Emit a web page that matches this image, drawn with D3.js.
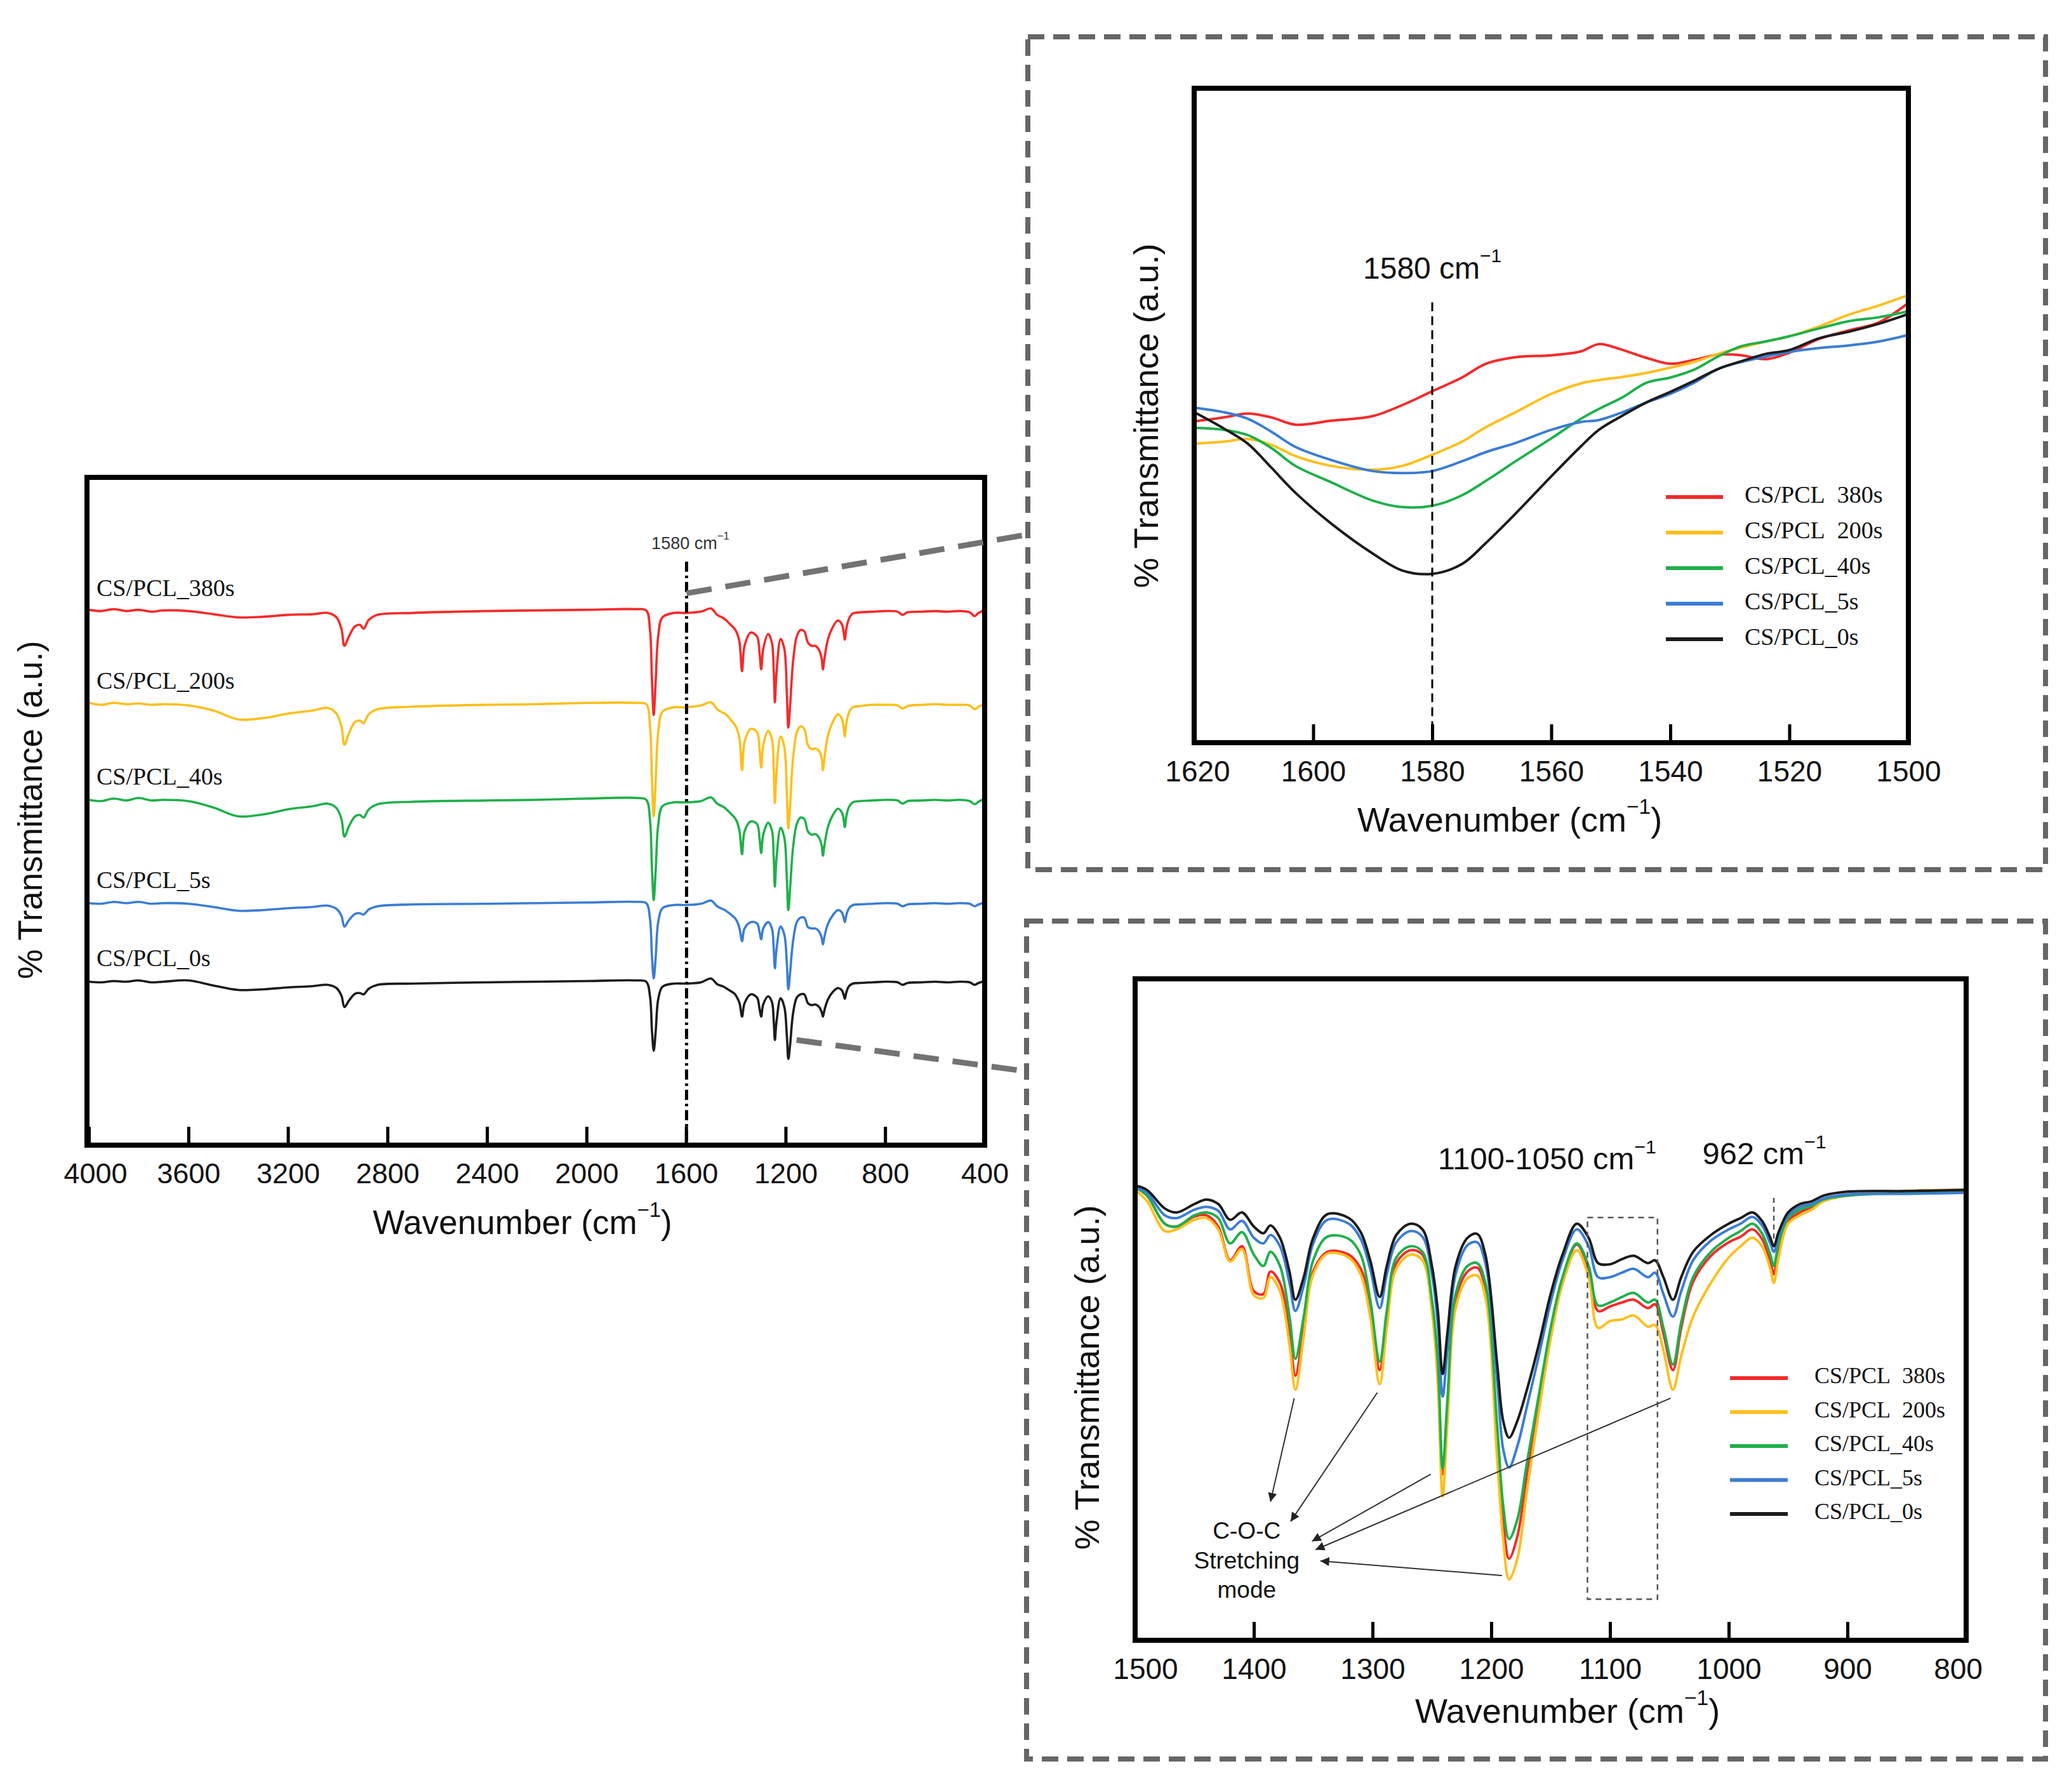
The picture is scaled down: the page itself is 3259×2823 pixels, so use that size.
<!DOCTYPE html>
<html>
<head>
<meta charset="utf-8">
<script src="https://cdn.jsdelivr.net/npm/d3@7"></script>
<style>
  body { margin: 0; background: #fff; }
</style>
</head>
<body>
<div id="fig"></div>
<script>
// ---- data ----------------------------------------------------------------
var seriesNames = ["CS/PCL_380s", "CS/PCL_200s", "CS/PCL_40s", "CS/PCL_5s", "CS/PCL_0s"];
var legendNames = ["CS/PCL\u2002380s", "CS/PCL\u2002200s", "CS/PCL_40s", "CS/PCL_5s", "CS/PCL_0s"];
var colors = ["#f42a2a", "#fdbf1c", "#1fb04b", "#3b7dd4", "#1c1c1c"];

// full spectrum, 4000-400 cm-1 (dip depth below each trace's own baseline, a.u.)
var mainWn = [4000, 3950, 3900, 3850, 3800, 3750, 3700, 3600, 3500, 3400, 3300, 3200, 3100, 3040, 3005, 2985, 2973, 2955, 2930, 2910, 2896, 2875, 2840, 2700, 2400, 2200, 2000, 1800, 1760, 1745, 1737, 1730, 1722, 1712, 1695, 1650, 1600, 1540, 1500, 1475, 1455, 1440, 1420, 1405, 1395, 1385, 1375, 1365, 1340, 1315, 1305, 1298, 1290, 1270, 1255, 1248, 1243, 1237, 1220, 1205, 1195, 1189, 1182, 1170, 1155, 1140, 1125, 1110, 1095, 1080, 1065, 1055, 1050, 1044, 1030, 1010, 990, 975, 968, 962, 956, 945, 930, 900, 850, 800, 750, 730, 710, 650, 600, 550, 500, 460, 440, 425, 410, 400];
var main380 = [-0.2, 0, -0.3, 0, -0.2, 0.1, -0.1, 0, 0.5, 1.0, 0.9, 0.6, 0.5, 0.3, 1.0, 2.8, 5.5, 4.0, 2.4, 2.2, 2.8, 1.4, 0.6, 0.3, 0, -0.1, -0.2, -0.3, -0.1, 3.0, 11.0, 16.4, 11.0, 4.0, 1.0, 0.3, 0.3, 0.1, -0.4, 0.6, 1.0, 1.4, 2.2, 2.8, 3.5, 5.0, 9.5, 5.5, 3.4, 4.0, 6.5, 9.2, 6.0, 3.6, 5.0, 9.0, 14.4, 10.0, 4.4, 6.0, 13.0, 18.4, 15.0, 8.0, 4.0, 3.0, 3.2, 5.0, 5.5, 5.5, 6.2, 7.5, 9.2, 7.5, 4.5, 2.5, 1.5, 2.0, 3.0, 4.5, 2.8, 1.2, 0.4, 0.2, 0.1, 0, 0.1, 0.6, 0.2, 0.1, 0, 0.1, 0, 0.2, 0.8, 0.3, 0, -0.5];
var main200 = [-0.2, 0.1, -0.2, 0, -0.1, 0.1, 0, 0.2, 1.0, 2.4, 2.2, 1.5, 1.0, 0.6, 1.5, 3.5, 6.4, 4.6, 2.8, 2.6, 3.0, 1.6, 0.8, 0.4, 0.1, 0, -0.2, -0.2, 0, 3.5, 12.0, 17.7, 12.0, 4.5, 1.2, 0.5, 0.5, 0.2, -0.3, 0.8, 1.3, 1.6, 2.5, 3.2, 4.0, 5.5, 10.4, 6.0, 3.9, 4.4, 7.0, 10.0, 6.5, 4.2, 5.5, 10.0, 15.6, 11.0, 5.1, 6.8, 14.0, 19.6, 16.0, 8.5, 4.5, 3.5, 3.9, 6.5, 7.1, 7.0, 7.4, 8.5, 10.4, 8.5, 5.0, 2.8, 1.6, 2.2, 3.3, 5.1, 3.0, 1.3, 0.5, 0.3, 0.1, 0.1, 0.2, 0.7, 0.3, 0.1, 0, 0.1, 0.1, 0.2, 0.8, 0.4, 0.1, -0.4];
var main40 = [0, 0.2, -0.2, 0.1, -0.3, 0.1, 0, 0.2, 1.2, 2.6, 2.3, 1.5, 1.0, 0.6, 1.3, 3.0, 5.8, 4.2, 2.6, 2.4, 2.8, 1.5, 0.7, 0.3, 0.1, 0, -0.2, -0.3, 0, 3.2, 11.0, 15.8, 11.0, 4.0, 1.0, 0.4, 0.4, 0.2, -0.4, 0.6, 1.0, 1.4, 2.2, 2.8, 3.5, 5.0, 8.6, 5.0, 3.4, 3.8, 6.0, 8.4, 5.5, 3.6, 4.8, 8.8, 13.7, 9.5, 4.4, 6.0, 12.5, 17.4, 14.0, 7.5, 3.8, 2.8, 3.0, 5.0, 5.5, 5.4, 6.0, 7.2, 8.8, 7.2, 4.3, 2.4, 1.4, 1.9, 2.8, 4.3, 2.6, 1.1, 0.4, 0.2, 0.1, 0, 0.1, 0.6, 0.2, 0.1, 0, 0.1, 0, 0.2, 0.7, 0.3, 0, -0.4];
var main5 = [0, 0.1, -0.2, 0, -0.2, 0.1, 0, 0.1, 0.6, 1.2, 1.1, 0.8, 0.6, 0.4, 0.9, 2.0, 3.7, 2.7, 1.7, 1.6, 1.8, 1.0, 0.5, 0.2, 0.1, 0, -0.1, -0.2, 0, 2.5, 8.5, 11.9, 8.5, 3.0, 0.8, 0.3, 0.3, 0.1, -0.4, 0.5, 0.9, 1.2, 1.8, 2.3, 2.9, 4.0, 6.0, 4.0, 3.0, 3.2, 4.5, 5.7, 4.0, 3.0, 4.0, 7.0, 10.3, 7.5, 3.7, 5.0, 9.5, 13.6, 11.0, 6.0, 3.0, 2.3, 2.3, 3.8, 4.0, 4.0, 4.5, 5.5, 6.5, 5.3, 3.3, 1.9, 1.1, 1.4, 2.1, 3.0, 1.9, 0.8, 0.3, 0.2, 0.1, 0, 0.1, 0.5, 0.2, 0.1, 0, 0.1, 0, 0.1, 0.5, 0.2, 0, -0.4];
var main0 = [0, 0.1, -0.1, 0, -0.2, 0.1, 0, -0.2, 0.6, 1.3, 1.2, 0.9, 0.7, 0.5, 1.0, 2.2, 4.0, 3.0, 1.9, 1.8, 2.0, 1.1, 0.5, 0.3, 0.1, 0, -0.1, -0.2, 0, 2.3, 7.8, 10.9, 7.8, 2.8, 0.8, 0.3, 0.3, 0.1, -0.5, 0.4, 0.7, 1.0, 1.5, 1.9, 2.5, 3.4, 5.5, 3.4, 2.0, 2.5, 4.2, 5.5, 3.6, 2.3, 3.2, 6.0, 9.2, 6.5, 2.6, 4.0, 8.5, 12.2, 10.0, 5.0, 2.5, 2.0, 2.0, 3.4, 3.7, 3.6, 4.0, 4.8, 5.5, 4.5, 2.8, 1.6, 1.0, 1.3, 1.9, 2.7, 1.7, 0.7, 0.3, 0.2, 0.1, 0, 0.1, 0.5, 0.2, 0.1, 0, 0.1, 0, 0.1, 0.5, 0.2, 0, -0.4];
var mainOffset = [84.3, 69.6, 54.5, 38.2, 25.8];
var mainTicks = [4000, 3600, 3200, 2800, 2400, 2000, 1600, 1200, 800, 400];
var mainMarkWn = 1598;   // where the "1580" guide line sits on the full-range axis

// zoom 1620-1500 cm-1
var zoomWn = [1620, 1615, 1611, 1607, 1603, 1597, 1590, 1585, 1580, 1575, 1571, 1566, 1560, 1555, 1552, 1548, 1544, 1540, 1536, 1532, 1528, 1524, 1520, 1515, 1510, 1505, 1500];
var zoom380 = [49.1, 49.7, 50.3, 49.7, 48.6, 49.2, 49.9, 51.6, 53.7, 55.8, 57.9, 58.9, 59.2, 59.8, 60.9, 60.0, 58.8, 57.9, 58.5, 59.3, 59.2, 58.6, 59.6, 61.7, 63.0, 64.2, 67.2];
var zoom200 = [45.7, 46.0, 46.4, 45.5, 43.8, 42.3, 41.7, 42.3, 44.0, 46.0, 48.2, 50.5, 53.3, 54.9, 55.4, 55.9, 56.5, 57.3, 58.2, 59.4, 60.4, 61.3, 62.1, 63.6, 65.4, 66.8, 68.4];
var zoom40 = [48.1, 47.8, 47.0, 45.0, 42.3, 39.8, 37.0, 36.0, 36.2, 37.8, 40.0, 43.0, 46.5, 49.5, 51.0, 52.8, 55.0, 55.8, 57.0, 59.0, 60.6, 61.3, 62.1, 63.3, 64.4, 65.0, 65.9];
var zoom5 = [51.2, 50.5, 49.5, 47.5, 45.2, 43.2, 41.5, 41.2, 41.5, 43.0, 44.4, 45.8, 47.8, 49.0, 49.3, 50.5, 52.0, 53.3, 55.0, 57.1, 58.2, 59.0, 59.7, 60.3, 60.7, 61.3, 62.3];
var zoom0 = [50.5, 48.0, 45.7, 42.0, 38.2, 33.5, 28.9, 26.3, 25.8, 27.3, 30.5, 35.0, 40.7, 45.3, 47.8, 50.0, 52.0, 53.6, 55.3, 57.1, 58.3, 59.4, 60.0, 61.8, 62.8, 64.0, 65.5];
var zoomTicks = [1620, 1600, 1580, 1560, 1540, 1520, 1500];

// zoom 1500-800 cm-1
var fingerWn = [1500, 1490, 1475, 1465, 1450, 1440, 1430, 1420, 1410, 1400, 1392, 1386, 1378, 1370, 1365, 1358, 1350, 1338, 1320, 1310, 1302, 1294, 1288, 1280, 1268, 1258, 1250, 1245, 1241, 1237, 1230, 1220, 1212, 1205, 1195, 1190, 1185, 1178, 1170, 1160, 1150, 1140, 1128, 1118, 1110, 1100, 1090, 1080, 1068, 1062, 1055, 1047, 1040, 1030, 1015, 1000, 990, 980, 972, 965, 962, 958, 950, 940, 930, 920, 900, 850, 800];
var finger380 = [80.5, 79.0, 74.0, 73.5, 75.3, 75.5, 73.5, 67.5, 70.0, 62.0, 61.5, 65.5, 63.5, 54.5, 47.0, 55.5, 65.5, 69.0, 68.5, 66.0, 59.5, 48.0, 57.0, 67.0, 69.3, 68.5, 60.0, 48.5, 29.5, 41.5, 60.5, 65.5, 66.2, 62.5, 35.0, 21.0, 14.5, 18.5, 29.5, 42.5, 55.0, 64.3, 70.3, 66.0, 58.5, 59.3, 60.0, 60.5, 59.0, 59.7, 54.5, 48.0, 55.5, 63.7, 68.3, 70.7, 71.7, 73.0, 71.3, 67.3, 65.0, 69.5, 74.5, 76.0, 77.0, 78.3, 79.0, 79.8, 80.0];
var finger200 = [80.0, 78.0, 72.7, 73.0, 74.7, 75.0, 73.0, 67.3, 69.5, 61.3, 60.8, 64.5, 62.0, 52.5, 44.5, 54.0, 65.0, 68.7, 68.0, 65.0, 57.5, 45.5, 55.5, 66.0, 68.5, 67.5, 58.5, 45.5, 25.5, 38.5, 59.0, 64.3, 64.8, 61.0, 32.0, 18.0, 10.8, 14.5, 26.5, 40.5, 53.5, 63.3, 69.3, 64.5, 55.5, 56.7, 57.0, 57.7, 55.7, 56.0, 51.5, 44.5, 50.5, 57.5, 63.5, 68.0, 70.0, 71.5, 70.0, 66.0, 63.5, 68.0, 74.0, 75.5, 76.5, 78.0, 79.0, 79.8, 80.0];
var finger40 = [80.5, 79.0, 74.0, 73.5, 75.5, 76.0, 75.0, 70.5, 72.5, 68.5, 66.5, 69.0, 66.5, 57.5, 50.0, 57.5, 67.5, 71.7, 71.3, 68.5, 60.5, 49.5, 58.5, 68.0, 70.0, 69.0, 60.5, 49.5, 30.5, 42.5, 61.5, 66.5, 67.0, 63.5, 38.0, 24.0, 18.0, 21.5, 31.5, 43.5, 55.5, 64.5, 70.5, 66.5, 59.5, 60.0, 61.0, 61.7, 60.0, 60.5, 55.5, 49.0, 56.5, 64.5, 69.0, 71.5, 72.7, 74.0, 72.3, 68.5, 66.5, 70.5, 75.0, 76.5, 77.2, 78.3, 79.0, 79.5, 79.7];
var finger5 = [80.5, 79.5, 75.5, 75.0, 76.5, 77.0, 76.3, 73.0, 74.5, 71.5, 70.5, 72.0, 70.0, 63.5, 58.5, 63.0, 70.5, 74.7, 74.0, 71.3, 66.0, 59.0, 65.0, 70.7, 72.7, 71.7, 65.0, 56.0, 43.3, 51.5, 65.0, 70.2, 70.7, 67.0, 46.0, 34.0, 30.7, 34.5, 41.5, 50.5, 60.0, 67.5, 73.0, 70.0, 64.5, 64.5, 65.3, 66.0, 64.5, 65.3, 61.5, 57.5, 62.0, 67.5, 71.0, 73.0, 74.0, 75.2, 73.7, 70.5, 69.0, 71.7, 75.5, 77.0, 77.5, 78.5, 79.2, 79.3, 79.5];
var finger0 = [80.8, 80.0, 76.7, 76.0, 77.5, 78.3, 77.5, 74.7, 76.0, 73.5, 72.3, 73.7, 71.5, 65.5, 60.5, 64.5, 71.5, 75.7, 75.0, 72.5, 67.5, 61.0, 66.5, 72.0, 74.0, 73.0, 66.5, 58.5, 47.3, 54.5, 66.5, 71.5, 72.2, 68.5, 49.0, 39.0, 36.0, 39.0, 44.5, 52.5, 61.5, 68.5, 74.0, 71.5, 67.0, 66.8, 67.7, 68.3, 67.0, 67.5, 64.5, 60.5, 64.5, 69.0, 72.0, 74.0, 75.0, 76.0, 74.5, 71.5, 70.0, 72.5, 76.0, 77.5, 78.0, 79.0, 79.7, 79.8, 80.0];
var fingerTicks = [1500, 1400, 1300, 1200, 1100, 1000, 900, 800];

// annotations of the 1500-800 panel, [wavenumber, a.u.]
var cocFrom = [[1366, 43.0], [1296, 44.0], [1251, 29.5], [1049, 43.0], [1191, 11.5]];
var cocTo = [[1386, 24.6], [1369, 21.1], [1351, 17.6], [1348, 16.1], [1344, 14.1]];
var cocLines = ["C-O-C", "Stretching", "mode"];

// ---- drawing ---------------------------------------------------------------
var svgWidth = 3259;
var svgHeight = 2823;
var SANS = "'Liberation Sans', Arial, sans-serif";
var SERIF = "'Liberation Serif', 'Times New Roman', serif";

var svg = d3.select("#fig")
  .append("svg")
  .attr("width", svgWidth)
  .attr("height", svgHeight)
  .style("background", "#fff");

var defs = svg.append("defs");
defs.append("marker")
  .attr("id", "arrow")
  .attr("viewBox", "0 0 10 10")
  .attr("refX", 10).attr("refY", 5)
  .attr("markerUnits", "userSpaceOnUse")
  .attr("markerWidth", 16).attr("markerHeight", 14)
  .attr("orient", "auto")
  .append("path").attr("d", "M0,0 L10,5 L0,10 Z").attr("fill", "#222");

var clipCount = 0;

// text with a raised "−1" after "cm"
function cmLabel(sel, before, after, fs) {
  sel.append("tspan").text(before + "cm");
  sel.append("tspan").attr("dy", -fs * 0.42).attr("font-size", fs * 0.62).text("\u22121");
  sel.append("tspan").attr("dy", fs * 0.42).text(after);
}

// box = frame, nudge = [first label shift, last label shift]
function makePanel(box, xRange, xDomain, yDomain, tickVals, fs, nudge) {
  var x = d3.scaleLinear().domain(xDomain).range(xRange);
  var y = d3.scaleLinear().domain(yDomain).range([box.bottom, box.top]);
  var g = svg.append("g");
  var clipId = "clip" + (clipCount++);
  defs.append("clipPath").attr("id", clipId)
    .append("rect")
    .attr("x", box.left).attr("y", box.top)
    .attr("width", box.right - box.left).attr("height", box.bottom - box.top);
  var plot = g.append("g").attr("clip-path", `url(#${clipId})`);
  var extra = g.append("g");

  var bottomAxis = d3.axisBottom(x)
    .tickValues(tickVals)
    .tickSizeInner(-29)
    .tickSizeOuter(0)
    .tickPadding(28)
    .tickFormat(d3.format("d"));
  var ax = g.append("g")
    .attr("transform", `translate(0, ${box.bottom})`)
    .call(bottomAxis);
  ax.select(".domain").remove();
  ax.selectAll(".tick line").attr("stroke", "#000").attr("stroke-width", 5);
  var labels = ax.selectAll(".tick text")
    .attr("font-family", SANS).attr("font-size", fs).attr("fill", "#111");
  var n = labels.size();
  labels.attr("dx", (d, i) => i === 0 ? nudge[0] : (i === n - 1 ? nudge[1] : 0));

  g.append("rect")
    .attr("x", box.left).attr("y", box.top)
    .attr("width", box.right - box.left).attr("height", box.bottom - box.top)
    .attr("fill", "none").attr("stroke", "#000").attr("stroke-width", 8);

  return { x: x, y: y, g: g, plot: plot, extra: extra };
}

function axisTitles(p, xPos, yPos, fs) {
  var xt = p.g.append("text")
    .attr("x", xPos[0]).attr("y", xPos[1])
    .attr("text-anchor", "middle").attr("dominant-baseline", "middle")
    .attr("font-family", SANS).attr("font-size", fs).attr("fill", "#111");
  cmLabel(xt, "Wavenumber (", ")", fs);
  p.g.append("text")
    .attr("transform", `translate(${yPos[0]}, ${yPos[1]}) rotate(-90)`)
    .attr("text-anchor", "middle").attr("dominant-baseline", "middle")
    .attr("font-family", SANS).attr("font-size", fs).attr("fill", "#111")
    .text("% Transmittance (a.u.)");
}

function drawLines(p, wn, seriesList, width) {
  var line = d3.line()
    .x(d => p.x(d[0]))
    .y(d => p.y(d[1]))
    .curve(d3.curveCatmullRom.alpha(0.5));
  seriesList.forEach(function(vals, i) {
    p.plot.append("path")
      .datum(d3.zip(wn, vals))
      .attr("fill", "none")
      .attr("stroke", colors[i])
      .attr("stroke-width", width)
      .attr("stroke-linejoin", "round")
      .attr("d", line);
  });
}

function legend(g, x0, x1, tx, y0, dy, fs) {
  legendNames.forEach(function(name, i) {
    var yy = y0 + i * dy;
    g.append("line")
      .attr("x1", x0).attr("x2", x1).attr("y1", yy).attr("y2", yy)
      .attr("stroke", colors[i]).attr("stroke-width", 6);
    g.append("text")
      .attr("x", tx).attr("y", yy)
      .attr("dominant-baseline", "middle")
      .attr("font-family", SERIF).attr("font-size", fs).attr("fill", "#111")
      .text(name);
  });
}

// dashed frames round the two zooms
function dashedFrame(x0, y0, x1, y1) {
  svg.append("rect")
    .attr("x", x0).attr("y", y0).attr("width", x1 - x0).attr("height", y1 - y0)
    .attr("fill", "none").attr("stroke", "#666").attr("stroke-width", 8)
    .attr("stroke-dasharray", "26,14");
}
dashedFrame(1619, 58, 3222, 1370);
dashedFrame(1617, 1451, 3222, 2771);

// ---- main spectrum ----
var mainP = makePanel({ left: 137, right: 1551, top: 752, bottom: 1804 }, [140, 1551],
  [4000, 400], [0, 105.4], mainTicks, 45, [10, 0]);
axisTitles(mainP, [823, 1930], [52, 1276], 53);

var mainSeries = [main380, main200, main40, main5, main0].map(function(depths, i) {
  return depths.map(d => mainOffset[i] - d);
});
drawLines(mainP, mainWn, mainSeries, 3.6);

seriesNames.forEach(function(name, i) {
  mainP.g.append("text")
    .attr("x", 152).attr("y", mainP.y(mainOffset[i]) - 24)
    .attr("font-family", SERIF).attr("font-size", 38).attr("fill", "#111")
    .text(name);
});

mainP.g.append("line")
  .attr("x1", mainP.x(mainMarkWn)).attr("x2", mainP.x(mainMarkWn))
  .attr("y1", mainP.y(92.1)).attr("y2", mainP.y(0))
  .attr("stroke", "#000").attr("stroke-width", 5)
  .attr("stroke-dasharray", "16,6,4,6");
var lbl1 = mainP.g.append("text")
  .attr("x", mainP.x(mainMarkWn) + 6).attr("y", mainP.y(94.8))
  .attr("text-anchor", "middle").attr("dominant-baseline", "middle")
  .attr("font-family", SANS).attr("font-size", 27).attr("fill", "#333");
cmLabel(lbl1, "1580 ", "", 27);

// ---- zoom 1620-1500 ----
var zoomP = makePanel({ left: 1881, right: 3006, top: 139, bottom: 1170 }, [1881, 3006],
  [1620, 1500], [0, 100], zoomTicks, 46, [5, 0]);
axisTitles(zoomP, [2378, 1296], [1810, 655], 54);
drawLines(zoomP, zoomWn, [zoom380, zoom200, zoom40, zoom5, zoom0], 4);
zoomP.extra.append("line")
  .attr("x1", zoomP.x(1580)).attr("x2", zoomP.x(1580))
  .attr("y1", zoomP.y(67.3)).attr("y2", zoomP.y(0))
  .attr("stroke", "#000").attr("stroke-width", 3)
  .attr("stroke-dasharray", "14,8");
var lbl2 = zoomP.g.append("text")
  .attr("x", zoomP.x(1580)).attr("y", zoomP.y(72.2))
  .attr("text-anchor", "middle").attr("dominant-baseline", "middle")
  .attr("font-family", SANS).attr("font-size", 48).attr("fill", "#111");
cmLabel(lbl2, "1580 ", "", 48);
legend(zoomP.g, 2624, 2714, 2748, 783, 56, 38);

// ---- zoom 1500-800 ----
var fingP = makePanel({ left: 1788, right: 3097, top: 1542, bottom: 2584 }, [1788, 3097],
  [1500, 800], [0, 117.5], fingerTicks, 46, [16, -13]);
axisTitles(fingP, [2469, 2700], [1717, 2170], 54);
drawLines(fingP, fingerWn, [finger380, finger200, finger40, finger5, finger0], 4);

fingP.extra.append("rect")
  .attr("x", fingP.x(1119)).attr("y", fingP.y(75.1))
  .attr("width", fingP.x(1060) - fingP.x(1119)).attr("height", fingP.y(7.3) - fingP.y(75.1))
  .attr("fill", "none").attr("stroke", "#555").attr("stroke-width", 2.5)
  .attr("stroke-dasharray", "9,7");
fingP.extra.append("line")
  .attr("x1", fingP.x(962)).attr("x2", fingP.x(962))
  .attr("y1", fingP.y(78.6)).attr("y2", fingP.y(71.2))
  .attr("stroke", "#555").attr("stroke-width", 2.5)
  .attr("stroke-dasharray", "8,6");

cocFrom.forEach(function(f, i) {
  fingP.g.append("line")
    .attr("x1", fingP.x(f[0])).attr("y1", fingP.y(f[1]))
    .attr("x2", fingP.x(cocTo[i][0])).attr("y2", fingP.y(cocTo[i][1]))
    .attr("stroke", "#333").attr("stroke-width", 2)
    .attr("marker-end", "url(#arrow)");
});
cocLines.forEach(function(t, i) {
  fingP.g.append("text")
    .attr("x", fingP.x(1406)).attr("y", fingP.y(19.1 - i * 5.2))
    .attr("text-anchor", "middle").attr("dominant-baseline", "middle")
    .attr("font-family", SANS).attr("font-size", 37).attr("fill", "#111")
    .text(t);
});
var lbl3 = fingP.g.append("text")
  .attr("x", fingP.x(1153)).attr("y", fingP.y(85.1))
  .attr("text-anchor", "middle").attr("dominant-baseline", "middle")
  .attr("font-family", SANS).attr("font-size", 49).attr("fill", "#111");
cmLabel(lbl3, "1100-1050 ", "", 49);
var lbl4 = fingP.g.append("text")
  .attr("x", fingP.x(970)).attr("y", fingP.y(86.0))
  .attr("text-anchor", "middle").attr("dominant-baseline", "middle")
  .attr("font-family", SANS).attr("font-size", 49).attr("fill", "#111");
cmLabel(lbl4, "962 ", "", 49);
legend(fingP.g, 2725, 2816, 2858, 2171, 53.5, 36);

// ---- grey connectors from the full spectrum to the zooms ----
var connectors = [
  [[mainP.x(mainMarkWn), mainP.y(87.1)], [1619, 842]],
  [[mainP.x(1156), mainP.y(16.6)], [1619, 1688]]
];
connectors.forEach(function(c) {
  svg.append("line")
    .attr("x1", c[0][0]).attr("y1", c[0][1])
    .attr("x2", c[1][0]).attr("y2", c[1][1])
    .attr("stroke", "#737373").attr("stroke-width", 9)
    .attr("stroke-dasharray", "40,22");
});
</script>
</body>
</html>
